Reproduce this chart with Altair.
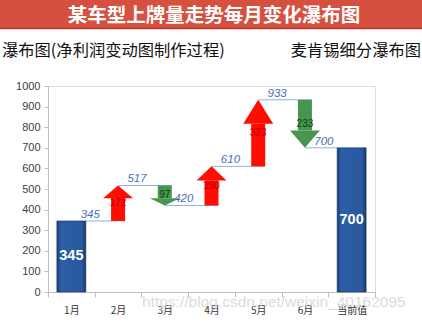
import json
import altair as alt
import pandas as pd

# ---------------- data ----------------
categories = ["1月", "2月", "3月", "4月", "5月", "6月", "当前值"]
start_value = 345
changes = [172, -97, 190, 323, -233]
final_value = 700
y_ticks = list(range(0, 1001, 100))

title_text = "某车型上牌量走势每月变化瀑布图"
subtitle_left = "瀑布图(净利润变动图制作过程)"
subtitle_right = "麦肯锡细分瀑布图"
watermark = "https://blog.csdn.net/weixin_40162095"

# ---------------- style constants ----------------
W, H = 327, 206
PAD = {"left": 48, "top": 86, "right": 47, "bottom": 30}
BAR_HALF = 0.31
SHAFT_HALF = 0.15
HEAD_HALF = 0.32
HEAD_FRAC = 0.36
RED = "#ff0d00"
GREEN = "#46964f"
CJK = "Noto Sans CJK SC"
LAT = "Liberation Sans"

# ---------------- derived tables ----------------
totals = [start_value]
for d in changes:
    totals.append(totals[-1] + d)

bars_df = pd.DataFrame({
    "i": [0, len(categories) - 1],
    "value": [start_value, final_value],
})
bars_df["x1"] = bars_df["i"] - BAR_HALF
bars_df["x2"] = bars_df["i"] + BAR_HALF
bars_df["mid"] = bars_df["value"] / 2
bars_df["label"] = bars_df["value"].astype(str)

shaft_rows, head_rows, arrow_lbl = [], [], []
for k, d in enumerate(changes):
    i = k + 1
    s, e = totals[k], totals[k + 1]
    base = s + d * (1 - HEAD_FRAC)
    shaft_rows.append({"i": i, "x1": i - SHAFT_HALF, "x2": i + SHAFT_HALF,
                       "y1": s, "y2": base, "delta": d})
    for dx, yy in [(-HEAD_HALF, base), (0, e), (HEAD_HALF, base)]:
        head_rows.append({"arrow": i, "x": i + dx, "y": yy, "yb": base, "delta": d})
    arrow_lbl.append({"i": i, "y": (s + e) / 2, "label": str(abs(d)), "delta": d})
shaft_df = pd.DataFrame(shaft_rows)
head_df = pd.DataFrame(head_rows)
arrow_lbl_df = pd.DataFrame(arrow_lbl)

line_rows = []
for k, t in enumerate(totals):
    x1 = k + (BAR_HALF if k == 0 else 0)
    x2 = k + 1 + (SHAFT_HALF if k + 1 < len(categories) - 1 else -BAR_HALF)
    line_rows.append({"x1": x1, "x2": x2, "y": t, "xl": k + 0.2, "label": str(t)})
lines_df = pd.DataFrame(line_rows)

# ---------------- scales / axes ----------------
n = len(categories)
x_scale = alt.Scale(domain=[-0.5, n - 0.5], nice=False, zero=False)
y_scale = alt.Scale(domain=[0, 1000], nice=False)
half_band = W / n / 2
cats_js = json.dumps(categories, ensure_ascii=False)
x_axis = alt.Axis(
    values=[i - 0.5 for i in range(n + 1)],
    labelExpr=f"datum.value < {n - 1} ? {cats_js}[datum.value + 0.5] : ''",
    labelOffset=half_band, labelFont=CJK, labelFontSize=10, labelColor="#333333",
    labelOverlap=False, labelFlush=False, labelPadding=8,
    tickSize=5, tickColor="#bfbfbf", domainColor="#bfbfbf", grid=False, title=None,
)
y_axis = alt.Axis(
    values=y_ticks, format="d", labelFont=LAT, labelFontSize=11, labelColor="#404040",
    tickSize=4, tickColor="#bfbfbf", domainColor="#bfbfbf", grid=False,
    title=None, labelPadding=4,
)

X = lambda f: alt.X(f, type="quantitative", scale=x_scale, axis=x_axis)
Y = lambda f: alt.Y(f, type="quantitative", scale=y_scale, axis=y_axis)

lines = alt.Chart(lines_df).mark_rule(color="#8db3e2", strokeWidth=1).encode(
    x=X("x1"), x2="x2", y=Y("y"))

line_labels = alt.Chart(lines_df).mark_text(
    align="left", baseline="bottom", dy=-1, font=LAT, fontSize=11.5,
    fontStyle="italic", color="#4a6fb5").encode(x=X("xl"), y=Y("y"), text="label")

arrow_color = alt.condition("datum.delta > 0", alt.value(RED), alt.value(GREEN))

shafts = alt.Chart(shaft_df).mark_bar().encode(
    x=X("x1"), x2="x2", y=Y("y1"), y2="y2", color=arrow_color)

heads = alt.Chart(head_df).mark_area(interpolate="linear").encode(
    x=X("x"), y=Y("y"), y2="yb", detail="arrow:N", color=arrow_color)

arrow_text = alt.Chart(arrow_lbl_df).mark_text(
    font=LAT, fontSize=10, baseline="middle").encode(
    x=X("i"), y=Y("y"), text="label",
    color=alt.condition("datum.delta > 0", alt.value("#c20000"), alt.value("#103d16")))

blue = alt.LinearGradient(
    gradient="linear", x1=0, x2=1, y1=0, y2=0,
    stops=[alt.GradientStop(color="#1b3f75", offset=0),
           alt.GradientStop(color="#2d5fa6", offset=0.15),
           alt.GradientStop(color="#295a9f", offset=0.85),
           alt.GradientStop(color="#183a6d", offset=1)])
bars = alt.Chart(bars_df).mark_bar(color=blue, stroke="#173461", strokeWidth=0.6).encode(
    x=X("x1"), x2="x2", y=Y("value"), y2=alt.datum(0))

bar_text = alt.Chart(bars_df).mark_text(
    font=LAT, fontSize=14.5, fontWeight="bold", color="white", baseline="middle").encode(
    x=X("i"), y=Y("mid"), text="label")

# ---------------- header ----------------
hdr = alt.Chart(pd.DataFrame({"t": [title_text]}))
title_bg = hdr.mark_rect(color="#d5503f").encode(
    x=alt.value(-PAD["left"]), x2=alt.value(W + PAD["right"]),
    y=alt.value(-PAD["top"]), y2=alt.value(-PAD["top"] + 28))
title_line = hdr.mark_rule(color="#b83a2c", strokeWidth=1.5).encode(
    x=alt.value(-PAD["left"]), x2=alt.value(W + PAD["right"]),
    y=alt.value(-PAD["top"] + 28.5))
title = hdr.mark_text(font=CJK, fontSize=19.5, fontWeight="bold", color="white",
                      baseline="middle").encode(
    x=alt.value(214 - PAD["left"]), y=alt.value(16 - PAD["top"]), text="t")
sub_l = alt.Chart(pd.DataFrame({"t": [subtitle_left]})).mark_text(
    font=CJK, fontSize=16.3, color="#111111", align="left", baseline="middle").encode(
    x=alt.value(2 - PAD["left"]), y=alt.value(51 - PAD["top"]), text="t")
sub_r = alt.Chart(pd.DataFrame({"t": [subtitle_right]})).mark_text(
    font=CJK, fontSize=16.3, color="#111111", align="right", baseline="middle").encode(
    x=alt.value(421 - PAD["left"]), y=alt.value(51 - PAD["top"]), text="t")
wm = alt.Chart(pd.DataFrame({"t": [watermark]})).mark_text(
    font=LAT, fontSize=15.5, color="#d4d4d4", opacity=0.8, align="left",
    baseline="middle").encode(
    x=alt.value(142 - PAD["left"]), y=alt.value(302 - PAD["top"]), text="t")

chart = alt.layer(
    title_bg, title_line, title, sub_l, sub_r,
    lines, shafts, heads, bars, line_labels, arrow_text, bar_text, wm,
).properties(
    width=W, height=H,
    autosize=alt.AutoSizeParams(type="none"),
    padding=PAD,
).configure_view(stroke=None).configure(background="white")

chart.save("out.html", embed_options={"renderer": "svg", "actions": False})
